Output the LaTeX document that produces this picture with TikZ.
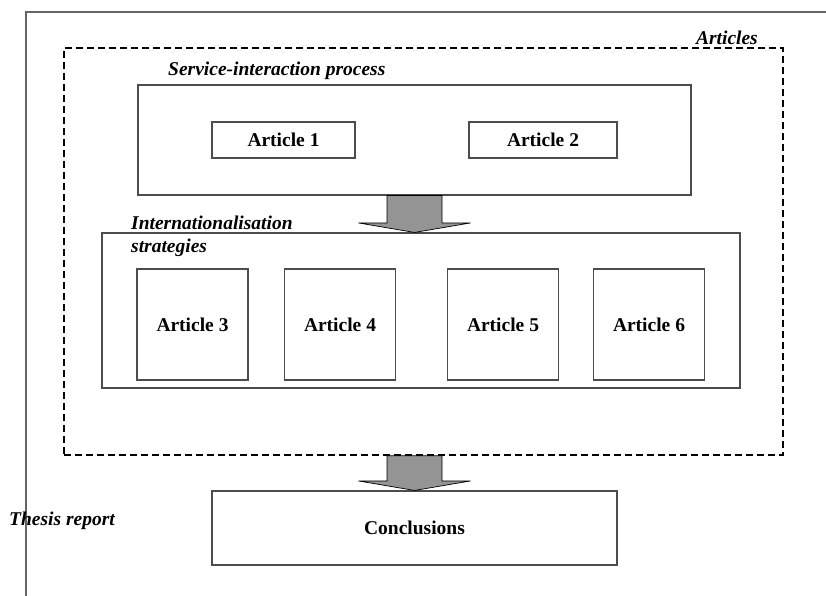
\documentclass[tikz,border=0pt]{standalone}
\usepackage{fontspec}
\setmainfont{Liberation Serif}
\usetikzlibrary{calc}

\tikzset{
  x=1pt, y=-1pt,
  txt/.style={font=\fontsize{19.5}{23}\selectfont\bfseries},
  label/.style={font=\fontsize{19.5}{23}\selectfont\bfseries\itshape, inner sep=0pt},
  box/.style={draw=black!70, line width=1.1pt, rectangle, inner sep=0pt, txt},
  group/.style={draw=black!70, line width=1.1pt, rectangle, inner sep=0pt},
  dashbox/.style={draw=black, line width=1.6pt, dash pattern=on 7pt off 4pt, rectangle, inner sep=0pt},
  frame/.style={draw=black!60, line width=1.2pt},
  blockarrow/.style={fill=black!42, draw=black, line width=0.7pt, line join=miter},
}

% broad down arrow from a point on one box to the point below it on the next
\newcommand{\downarrowblock}[2]{%
  \draw[blockarrow]
    ($(#1)+(-27.5,0)$) -- ($(#1)+(27.5,0)$)
    -- ($(#2)+(27.5,-9.5)$) -- ($(#2)+(56,-9.5)$)
    -- (#2)
    -- ($(#2)+(-56,-9.5)$) -- ($(#2)+(-27.5,-9.5)$) -- cycle;}

\begin{document}
\begin{tikzpicture}
  \useasboundingbox (0,0) rectangle (826,596);

  % page frame
  \draw[frame] (26,596) -- (26,12) -- (826,12);

  % articles group
  \node[dashbox, minimum width=719, minimum height=407] (arts) at (423.5,251.5) {};
  \node[label, anchor=base east] (artslbl) at (758,45) {Articles};

  % service-interaction process
  \node[group, minimum width=553, minimum height=110] (sip) at (414.5,140) {};
  \node[label, anchor=base west] (siplbl) at (168,76) {Service-interaction process};
  \node[box, minimum width=143, minimum height=36] (a1) at (283.5,140) {Article 1};
  \node[box, minimum width=148, minimum height=36] (a2) at (543,140) {Article 2};

  % internationalisation strategies
  \node[group, minimum width=638, minimum height=155] (ints) at (421,310.5) {};
  \node[label, anchor=north west, align=left] (intslbl) at (131,215.5)
       {Internationalisation\\strategies};
  \node[box, minimum width=111, minimum height=111] (a3) at (192.5,324.5) {Article 3};
  \node[box, minimum width=111, minimum height=111] (a4) at (340,324.5) {Article 4};
  \node[box, minimum width=111, minimum height=111] (a5) at (503,324.5) {Article 5};
  \node[box, minimum width=111, minimum height=111] (a6) at (649,324.5) {Article 6};

  % thesis report
  \node[box, minimum width=405, minimum height=74] (concl) at (414.5,528) {Conclusions};
  \node[label, anchor=base west] (thesislbl) at (9,525) {Thesis report};

  % flow arrows
  \coordinate (f1) at (sip.south);
  \coordinate (t1) at (sip.south |- ints.north);
  \downarrowblock{f1}{t1}
  \coordinate (f2) at (concl.north |- arts.south);
  \coordinate (t2) at (concl.north);
  \downarrowblock{f2}{t2}
\end{tikzpicture}
\end{document}
